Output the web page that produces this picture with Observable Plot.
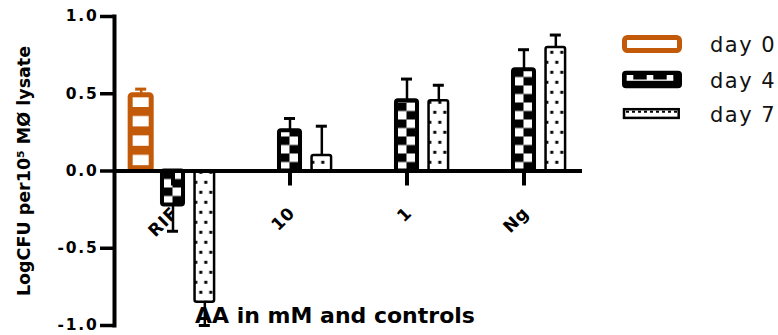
<!DOCTYPE html>
<html>
<head>
<meta charset="utf-8">
<script src="https://cdn.jsdelivr.net/npm/d3@7"></script>
<script src="https://cdn.jsdelivr.net/npm/@observablehq/plot@0.6"></script>
<style>
  body { margin: 0; background: #fff; }
  #wrap { position: relative; width: 778px; height: 335px; overflow: hidden; font-family: "DejaVu Sans", sans-serif; }
  #overlay { position: absolute; left: 0; top: 0; pointer-events: none; }
  #wrap g[aria-label="y-axis tick label"] text { letter-spacing: 1.8px; }
  #wrap g[aria-label="text"] text { letter-spacing: 0.8px; }
</style>
</head>
<body>
<svg width="0" height="0" style="position:absolute">
  <defs>
    <pattern id="pDay0" patternUnits="userSpaceOnUse" width="40" height="19.4">
      <rect width="40" height="19.4" fill="#fff"/>
      <rect width="40" height="9" fill="#c35a09"/>
    </pattern>
    <pattern id="pDay4" patternUnits="userSpaceOnUse" width="17" height="17">
      <rect width="17" height="17" fill="#fff"/>
      <rect width="8.5" height="8.5" fill="#000"/>
      <rect x="8.5" y="8.5" width="8.5" height="8.5" fill="#000"/>
    </pattern>
    <pattern id="pDay7" patternUnits="userSpaceOnUse" width="10" height="20">
      <rect width="10" height="20" fill="#fff"/>
      <rect x="0.5" y="0" width="3" height="3" fill="#000"/>
      <rect x="5.5" y="10" width="3" height="3" fill="#000"/>
    </pattern>
  </defs>
</svg>
<div id="wrap"></div>
<script>
// ---- data ----
const categories = ["RIF", "10", "1", "Ng"];
const days = ["day 0", "day 4", "day 7"];
const day0 = [0.49, null, null, null];
const day0Err = [0.04, null, null, null];
const day4 = [-0.22, 0.26, 0.455, 0.655];
const day4Err = [0.17, 0.08, 0.14, 0.13];
const day7 = [-0.85, 0.10, 0.455, 0.80];
const day7Err = [0.15, 0.19, 0.10, 0.08];
const yTicks = [-1, -0.5, 0, 0.5, 1];
const xLabel = "AA in mM and controls";
const yLabel = "LogCFU per10\u2075 M\u00D8 lysate";

// ---- styles ----
const orange = "#c35a09";
const series = [
  {day: "day 0", values: day0, errs: day0Err, fill: "url(#pDay0)", stroke: orange, sw: 5, inset: 0},
  {day: "day 4", values: day4, errs: day4Err, fill: "url(#pDay4)", stroke: "#000", sw: 4, inset: 0},
  {day: "day 7", values: day7, errs: day7Err, fill: "url(#pDay7)", stroke: "#000", sw: 2.5, inset: 0.75}
];
series.forEach(s => {
  s.rows = [];
  categories.forEach((c, i) => {
    if (s.values[i] != null) s.rows.push({cat: c, day: s.day, value: s.values[i], err: s.errs[i]});
  });
});
const errEnd = d => d.value + Math.sign(d.value) * d.err;

const marks = [];
series.forEach(s => {
  marks.push(Plot.ruleX(s.rows, {fx: "cat", x: "day", y1: "value", y2: errEnd, stroke: s.stroke, strokeWidth: 2.5}));
  marks.push(Plot.tickY(s.rows, {fx: "cat", x: "day", y: errEnd, stroke: s.stroke, strokeWidth: 3, insetLeft: 5, insetRight: 5}));
});
series.forEach(s => {
  marks.push(Plot.barY(s.rows, {fx: "cat", x: "day", y1: 0, y2: "value", fill: s.fill, stroke: s.stroke, strokeWidth: s.sw, rx: 2, insetLeft: s.inset, insetRight: s.inset}));
});
marks.push(
  Plot.ruleY([0], {strokeWidth: 4, stroke: "#000"}),
  Plot.ruleX(categories, {fx: d => d, x: () => "day 4", y1: () => 0, y2: () => 0, insetBottom: -15, strokeWidth: 4, stroke: "#000"}),
  Plot.text(categories, {fx: d => d, x: () => "day 4", y: () => 0, text: d => d, rotate: -45, textAnchor: "end", lineAnchor: "bottom", dx: 6, dy: 43, fontSize: 17, fontWeight: "bold", fill: "#000"}),
  Plot.frame({anchor: "left", facetAnchor: "left", strokeWidth: 4, stroke: "#000"}),
  Plot.axisY(yTicks, {tickFormat: d => d.toFixed(1), tickSize: 14, tickPadding: 2, strokeWidth: 3.5, fontSize: 15.5, fontWeight: "bold", label: null, fill: "#000", stroke: "#000"}),
  Plot.axisY([], {label: yLabel, labelAnchor: "center", labelOffset: 97, labelArrow: false, fontSize: 17.5, fontWeight: "bold", tickSize: 0, dy: 10})
);

const plot = Plot.plot({
  width: 778,
  height: 335,
  marginLeft: 114,
  marginRight: 196,
  marginTop: 16,
  marginBottom: 10,
  style: {fontFamily: "DejaVu Sans", color: "#000", background: "transparent", overflow: "visible"},
  fx: {domain: categories, padding: 0, axis: null, label: null},
  x: {domain: days, paddingInner: 0.339, paddingOuter: 0.508, axis: null, round: false},
  y: {domain: [-1, 1], axis: null},
  marks
});
const wrap = document.getElementById("wrap");
wrap.appendChild(plot);

// align pattern tiles with the scales
const xs = plot.scale("x"), ys = plot.scale("y");
const y0 = ys.apply(0);
d3.select("#pDay0").attr("y", y0 - 63.5);
d3.select("#pDay4").attr("x", xs.apply("day 4") + 2).attr("y", y0);
d3.select("#pDay7").attr("x", xs.apply("day 7")).attr("y", y0 + 10.3);

// ---- overlay: x label and legend ----
const ov = d3.select(wrap).append("svg").attr("id", "overlay").attr("width", 778).attr("height", 335);
ov.append("text").attr("x", 195).attr("y", 323)
  .attr("font-family", "DejaVu Sans").attr("font-weight", "bold").attr("font-size", 22).text(xLabel);

const lg = ov.append("g");
const rowY = [44, 79.5, 113.5];
// day 0 swatch
lg.append("rect").attr("x", 624.5).attr("y", rowY[0] - 6.5).attr("width", 55).attr("height", 13)
  .attr("rx", 3).attr("fill", "#fff").attr("stroke", orange).attr("stroke-width", 5);
// day 4 swatch
lg.append("rect").attr("x", 624).attr("y", rowY[1] - 6.8).attr("width", 56).attr("height", 13.6)
  .attr("rx", 2).attr("fill", "#000").attr("stroke", "#000").attr("stroke-width", 4);
[626.7, 646.7, 666.7].forEach(x => lg.append("rect").attr("x", x).attr("y", rowY[1] - 4.5).attr("width", 6.6).attr("height", 5).attr("fill", "#fff"));
lg.append("rect").attr("x", 626.7).attr("y", rowY[1]).attr("width", 46.6).attr("height", 1.3).attr("fill", "#fff");
// day 7 swatch
lg.append("rect").attr("x", 624).attr("y", rowY[2] - 4.3).attr("width", 54.7).attr("height", 8.7)
  .attr("fill", "#fff").attr("stroke", "#000").attr("stroke-width", 2.5);
lg.append("line").attr("x1", 626).attr("x2", 677).attr("y1", rowY[2] - 1.8).attr("y2", rowY[2] - 1.8)
  .attr("stroke", "#000").attr("stroke-width", 2).attr("stroke-dasharray", "3 3");
days.forEach((d, i) => {
  lg.append("text").attr("x", 710).attr("y", rowY[i] + 8)
    .attr("font-family", "DejaVu Sans").attr("font-size", 21).attr("letter-spacing", 1.5).attr("fill", "#111").text(d);
});
</script>
</body>
</html>
